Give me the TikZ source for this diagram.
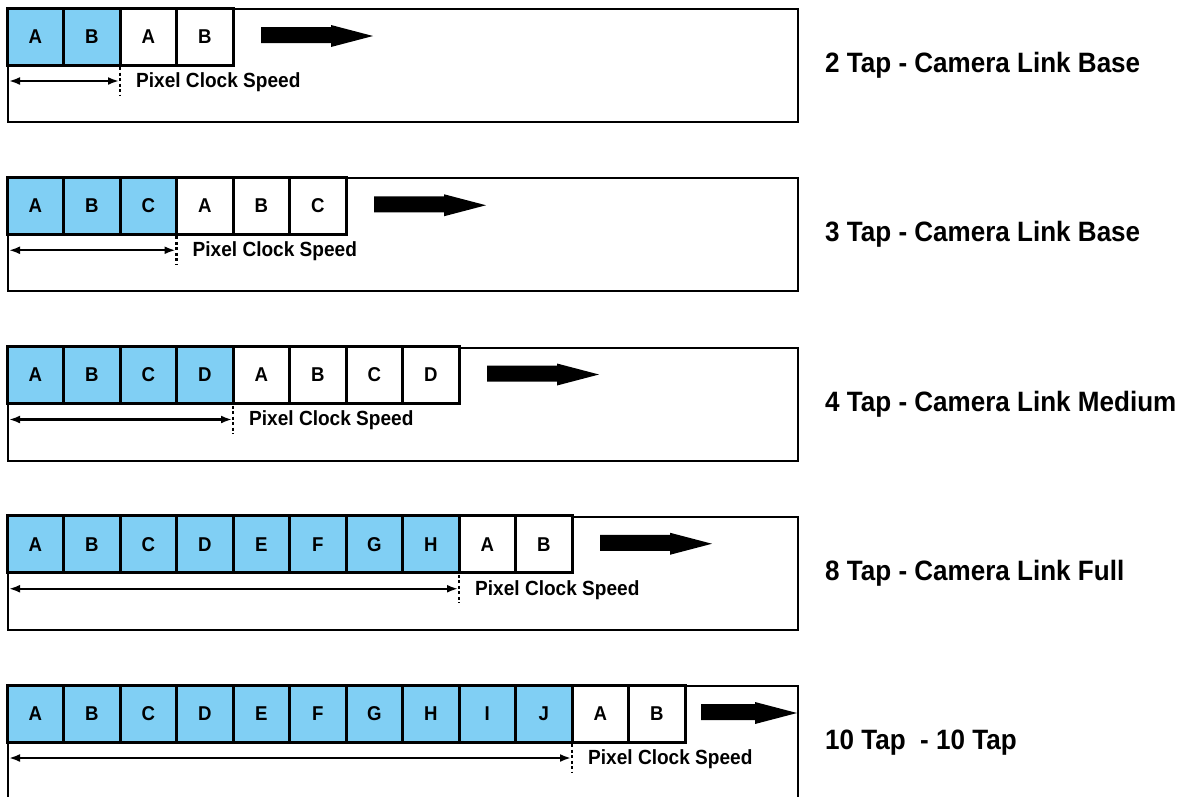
\documentclass[tikz,border=0pt]{standalone}
\usepackage{fontspec}
\setmainfont{Liberation Sans}[FakeStretch=0.93]
\usetikzlibrary{arrows.meta}
\definecolor{tapblue}{HTML}{80CFF4}
\tikzset{
  panel/.style={draw=black, line width=2pt, fill=white, inner sep=0pt, anchor=north west,
    minimum width=790pt, minimum height=113pt},
  cellbox/.style={draw=black, line width=3pt, minimum width=56.5pt, minimum height=57pt,
    inner sep=0pt, outer sep=0pt, anchor=north west, font=\fontsize{20}{20}\selectfont\bfseries},
  tapcell/.style={cellbox, fill=tapblue},
  freecell/.style={cellbox, fill=white},
  dimline/.style={line width=2.4pt, {Latex[length=11pt,width=8pt]}-{Latex[length=11pt,width=8pt]}},
  tickline/.style={line width=2.4pt, dash pattern=on 3pt off 2.5pt},
  clocktext/.style={anchor=base west, inner sep=0pt, font=\fontsize{20.5}{20.5}\selectfont\bfseries},
  tapname/.style={anchor=base west, inner sep=0pt, font=\fontsize{28}{28}\selectfont\bfseries},
  bigarrow/.style={fill=black}
}
\begin{document}
\begin{tikzpicture}[x=1pt,y=-1pt]
\useasboundingbox (0,0) rectangle (1188,796);
\clip (0,0) rectangle (1188,796);
\foreach \k/\col/\ncol/\wht/\nwht/\lab/\gap/\alen in {
  0/{A,B}/2/{A,B}/2/{2 Tap - Camera Link Base}/28/112,
  1/{A,B,C}/3/{A,B,C}/3/{3 Tap - Camera Link Base}/28/112,
  2/{A,B,C,D}/4/{A,B,C,D}/4/{4 Tap - Camera Link Medium}/28/112,
  3/{A,B,C,D,E,F,G,H}/8/{A,B}/2/{8 Tap - Camera Link Full}/28/112,
  4/{A,B,C,D,E,F,G,H,I,J}/10/{A,B}/2/{10 Tap\ \ - 10 Tap}/16/96}
{
  \pgfmathsetmacro{\top}{8+169.25*\k}
  \pgfmathsetmacro{\bx}{7+56.5*\ncol}
  \pgfmathsetmacro{\ex}{7+56.5*(\ncol+\nwht)}
  \pgfmathsetmacro{\ax}{\ex+\gap}
  \pgfmathsetmacro{\hx}{\ax+\alen-42}
  \pgfmathsetmacro{\tx}{\ax+\alen}
  \node[panel] (p\k) at (7,\top) {};
  \foreach \L [count=\i from 0] in \col {
    \node[tapcell] (c\k-\i) at ({7+56.5*\i},\top) {\L};
  }
  \foreach \L [count=\i from 0] in \wht {
    \node[freecell] (w\k-\i) at ({\bx+56.5*\i},\top) {\L};
  }
  \fill[bigarrow] (\ax,\top+19) -- (\hx,\top+19) -- (\hx,\top+17) -- (\tx,\top+28)
     -- (\hx,\top+39) -- (\hx,\top+35) -- (\ax,\top+35) -- cycle;
  \coordinate (ds\k) at (9,\top+73);
  \coordinate (de\k) at (\bx-1,\top+73);
  \draw[dimline] (ds\k) -- (de\k);
  \coordinate (tt\k) at (\bx,\top+59);
  \coordinate (tb\k) at (\bx,\top+87);
  \draw[tickline] (tt\k) -- (tb\k);
  \node[clocktext] (pc\k) at (\bx+16,\top+79.3) {Pixel Clock Speed};
  \node[tapname] (lab\k) at (825,\top+64.5) {\lab};
}
\end{tikzpicture}
\end{document}
